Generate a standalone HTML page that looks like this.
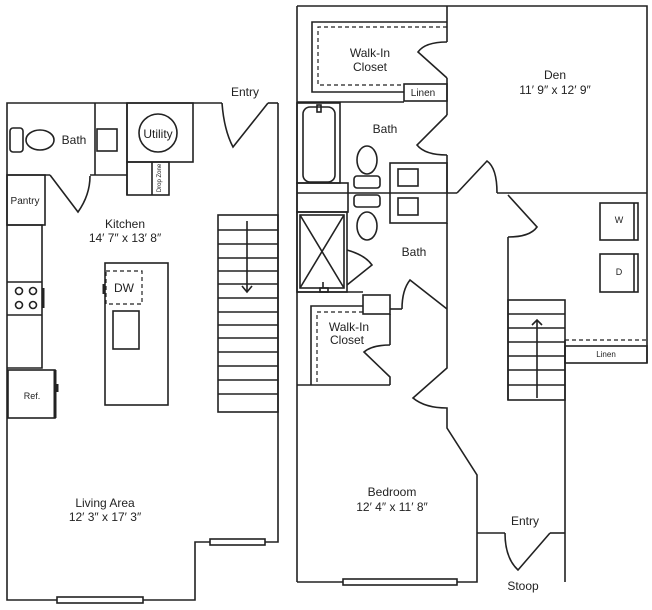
<!DOCTYPE html>
<html><head><meta charset="utf-8"><style>
html,body{margin:0;padding:0;background:#fff;}
svg{display:block;}
text{font-family:"Liberation Sans",sans-serif;fill:#222;text-anchor:middle;}
</style></head><body>
<svg width="652" height="610" viewBox="0 0 652 610" xmlns="http://www.w3.org/2000/svg">
<g fill="none" stroke="#222" stroke-width="1.6">
<polyline points="222,103 7,103 7,600 195,600 195,542 278,542 278,103"/>
<line x1="268" y1="103" x2="278" y2="103"/>
<path d="M222,103 Q224,130 233,147 L268,103"/>
<rect x="57" y="597" width="86" height="6" fill="#fff"/>
<rect x="210" y="539" width="55" height="6" fill="#fff"/>
<line x1="7" y1="175" x2="50" y2="175"/>
<path d="M50,175 L78,212 Q90,195 90,176"/>
<line x1="90" y1="175" x2="127" y2="175"/>
<line x1="95" y1="103" x2="95" y2="175"/>
<line x1="127" y1="103" x2="127" y2="195"/>
<rect x="97" y="129" width="20" height="22"/>
<rect x="10" y="128" width="13" height="24" rx="3"/>
<ellipse cx="40" cy="140" rx="14" ry="10"/>
<rect x="127" y="103" width="66" height="59"/>
<circle cx="158" cy="133" r="19"/>
<rect x="127" y="162" width="42" height="33"/>
<line x1="152" y1="162" x2="152" y2="195"/>
<rect x="7" y="175" width="38" height="50"/>
<polyline points="7,225 42,225 42,368 7,368"/>
<line x1="7" y1="282" x2="42" y2="282"/>
<line x1="7" y1="315" x2="42" y2="315"/>
<circle cx="19" cy="291" r="3.5"/><circle cx="33" cy="291" r="3.5"/>
<circle cx="19" cy="305" r="3.5"/><circle cx="33" cy="305" r="3.5"/>
<line x1="43" y1="288" x2="43" y2="308" stroke-width="3"/>
<rect x="8" y="370" width="47" height="48"/>
<line x1="55" y1="370" x2="55" y2="418" stroke-width="3"/>
<line x1="57" y1="384" x2="57" y2="392" stroke-width="3"/>
<rect x="105" y="263" width="63" height="142"/>
<rect x="106" y="271" width="36" height="33" stroke-dasharray="4,3" stroke-width="1.2"/>
<line x1="104" y1="284" x2="104" y2="294" stroke-width="3"/>
<rect x="113" y="311" width="26" height="38"/>
<rect x="218" y="215" width="60" height="197"/>
<path d="M218,230H278M218,244H278M218,258H278M218,271H278M218,284H278M218,298H278M218,312H278M218,325H278M218,338H278M218,352H278M218,366H278M218,380H278M218,394H278"/>
<line x1="247" y1="221" x2="247" y2="292"/>
<polyline points="242,286 247,292 252,286"/>

<polyline points="297,6 647,6 647,363"/>
<line x1="297" y1="6" x2="297" y2="582"/>
<line x1="447" y1="6" x2="447" y2="42"/>
<path d="M447,42 Q425,42 418,52 L447,78"/>
<line x1="447" y1="78" x2="447" y2="115"/>
<path d="M447,115 L417,145 Q425,155 447,155"/>
<line x1="447" y1="155" x2="447" y2="193"/>
<line x1="297" y1="193" x2="457" y2="193"/>
<path d="M457,193 L487,161 Q497,168 497,193"/>
<line x1="497" y1="193" x2="647" y2="193"/>
<polyline points="447,22 312,22 312,92 404,92"/>
<polyline points="447,27 318,27 318,85 404,85" stroke-dasharray="4,3" stroke-width="1.2"/>
<rect x="404" y="84" width="43" height="17"/>
<line x1="297" y1="102" x2="404" y2="102"/>
<rect x="297" y="103" width="43" height="80"/>
<rect x="303" y="107" width="32" height="75" rx="7"/>
<rect x="317" y="105" width="4" height="7"/>
<ellipse cx="367" cy="160" rx="10" ry="14"/>
<rect x="354" y="176" width="26" height="12" rx="3"/>
<rect x="354" y="195" width="26" height="12" rx="3"/>
<ellipse cx="367" cy="226" rx="10" ry="14"/>
<rect x="390" y="163" width="57" height="60"/>
<rect x="398" y="169" width="20" height="17"/>
<rect x="398" y="198" width="20" height="17"/>
<rect x="297" y="183" width="51" height="29"/>
<rect x="297" y="212" width="50" height="80"/>
<rect x="300" y="215" width="44" height="73"/>
<path d="M300,215 L344,288 M344,215 L300,288"/>
<rect x="320" y="288" width="8" height="4"/>
<line x1="323" y1="282" x2="323" y2="288"/>
<path d="M347,250 Q365,255 372,265 L347,285"/>
<line x1="447" y1="223" x2="447" y2="309"/>
<line x1="390" y1="309" x2="402" y2="309"/>
<path d="M402,309 Q402,290 410,280 L447,309"/>
<line x1="297" y1="292" x2="363" y2="292"/>
<rect x="363" y="295" width="27" height="19"/>
<line x1="297" y1="385" x2="390" y2="385"/>
<polyline points="363,306 311,306 311,385"/>
<polyline points="363,312 317,312 317,385" stroke-dasharray="4,3" stroke-width="1.2"/>
<line x1="390" y1="314" x2="390" y2="345"/>
<path d="M390,345 Q372,345 364,352 L390,377 L390,385"/>
<path d="M447,309 L447,368 L413,398 Q425,408 447,408 L447,428 L477,475 L477,582 L297,582"/>
<rect x="343" y="579" width="114" height="6" fill="#fff"/>
<line x1="477" y1="533" x2="505" y2="533"/>
<path d="M505,533 Q505,558 518,570 L550,533"/>
<line x1="550" y1="533" x2="565" y2="533"/>
<line x1="565" y1="340" x2="565" y2="582"/>
<path d="M508,195 L537,227 Q530,237 508,237"/>
<line x1="508" y1="237" x2="508" y2="400"/>
<rect x="508" y="300" width="57" height="100"/>
<path d="M508,314H565M508,328H565M508,342H565M508,356H565M508,370H565M508,385H565"/>
<line x1="537" y1="320" x2="537" y2="398"/>
<polyline points="532,325 537,320 542,325"/>
<rect x="565" y="346" width="82" height="17"/>
<line x1="565" y1="340" x2="647" y2="340" stroke-dasharray="4,3" stroke-width="1.2"/>
<rect x="600" y="203" width="38" height="37"/>
<line x1="634" y1="203" x2="634" y2="240"/>
<rect x="600" y="254" width="38" height="38"/>
<line x1="634" y1="254" x2="634" y2="292"/>
</g>
<g>
<text x="245" y="96" font-size="12">Entry</text>
<text x="74" y="144" font-size="12">Bath</text>
<text x="158" y="138" font-size="12">Utility</text>
<text x="161" y="178" font-size="6" transform="rotate(-90 161 178)">Drop Zone</text>
<text x="25" y="204" font-size="10">Pantry</text>
<text x="125" y="228" font-size="12">Kitchen</text>
<text x="125" y="242" font-size="12">14′ 7″ x 13′ 8″</text>
<text x="124" y="292" font-size="12">DW</text>
<text x="32" y="399" font-size="9">Ref.</text>
<text x="105" y="507" font-size="12">Living Area</text>
<text x="105" y="521" font-size="12">12′ 3″ x 17′ 3″</text>
<text x="370" y="57" font-size="12">Walk-In</text>
<text x="370" y="71" font-size="12">Closet</text>
<text x="423" y="96" font-size="10">Linen</text>
<text x="555" y="79" font-size="12">Den</text>
<text x="555" y="94" font-size="12">11′ 9″ x 12′ 9″</text>
<text x="385" y="133" font-size="12">Bath</text>
<text x="414" y="256" font-size="12">Bath</text>
<text x="619" y="223" font-size="9">W</text>
<text x="619" y="275" font-size="9">D</text>
<text x="349" y="331" font-size="12">Walk-In</text>
<text x="347" y="344" font-size="12">Closet</text>
<text x="606" y="357" font-size="8">Linen</text>
<text x="392" y="496" font-size="12">Bedroom</text>
<text x="392" y="511" font-size="12">12′ 4″ x 11′ 8″</text>
<text x="525" y="525" font-size="12">Entry</text>
<text x="523" y="590" font-size="12">Stoop</text>
</g>
</svg>
</body></html>
